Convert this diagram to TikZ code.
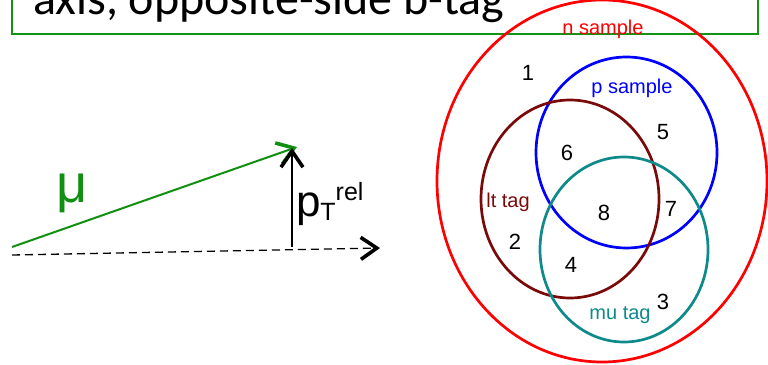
\documentclass[tikz,border=0pt]{standalone}
\usepackage{fontspec}
\setmainfont{Liberation Sans}
\newfontfamily\titlefont{Carlito}
\usetikzlibrary{arrows.meta, positioning}
\definecolor{boxgreen}{HTML}{149414}
\definecolor{mugreen}{HTML}{118F11}
\definecolor{nred}{HTML}{FF0000}
\definecolor{pblue}{HTML}{0000FF}
\definecolor{ltbrown}{HTML}{7A0A0A}
\definecolor{muteal}{HTML}{0E8A8A}

\begin{document}
\begin{tikzpicture}[
    x=1pt, y=1pt,
    every node/.style={inner sep=0pt, outer sep=0pt},
    setline/.style={line width=2.7pt},
    setlab/.style={font=\fontsize{20}{20}\selectfont},
    region/.style={font=\fontsize{22}{22}\selectfont, text=black},
    chev/.style={-{Straight Barb[length=16pt, width=22pt, line width=3.6pt]}}
]
\clip (0,0) rectangle (768,364);

% Title box
\draw[boxgreen, line width=2pt] (12,330) rectangle (758,400);
\node[anchor=base west, font=\titlefont\fontsize{48}{48}\selectfont] (title) at (33,349) {axis, opposite-side b-tag};

% Muon and axis
\coordinate (mustart) at (12,117);
\coordinate (mutip)   at (297,217);
\coordinate (axstart) at (12,109);
\coordinate (axend)   at (380,116);
\coordinate (ptbase)  at (292,117);
\coordinate (pttip)   at (292,216);
\draw[mugreen, line width=2pt, chev] (mustart) -- (mutip);
\draw[black, line width=1.3pt, dashed, dash pattern=on 8pt off 5pt, chev] (axstart) -- (axend);
\draw[black, line width=1.2pt, chev] (ptbase) -- (pttip);
\node[anchor=base, text=mugreen, font=\fontsize{54}{54}\selectfont] (mu) at (72,161) {μ};
\node[anchor=base west, font=\fontsize{44}{44}\selectfont] (ptrel) at (296,147)
  {p{\fontsize{25}{25}\selectfont\raisebox{-4pt}{T}\raisebox{16pt}{rel}}};

% Sets
\draw[nred, setline]    (602,183)   ellipse [x radius=165pt, y radius=181pt];
\draw[pblue, setline]   (626.5,211.5) ellipse [x radius=90.5pt, y radius=95.5pt];
\draw[ltbrown, setline] (570,165)   ellipse [x radius=89pt, y radius=99pt];
\draw[muteal, setline]  (624,114.5) ellipse [x radius=84pt, y radius=92.5pt];

% Set labels
\node[setlab, text=nred]    (nsample) at (603,335) {n sample};
\node[setlab, text=pblue]   (psample) at (632,276) {p sample};
\node[setlab, text=ltbrown] (lttag)   at (508,162) {lt tag};
\node[setlab, text=muteal]  (mutag)   at (620,49)  {mu tag};

% Regions
\node[region] (r1) at (528,291) {1};
\node[region] (r2) at (515,122) {2};
\node[region] (r3) at (663,62)  {3};
\node[region] (r4) at (571,99)  {4};
\node[region] (r5) at (663,232) {5};
\node[region] (r6) at (567,211) {6};
\node[region] (r7) at (671,155) {7};
\node[region] (r8) at (604,151) {8};
\end{tikzpicture}
\end{document}
